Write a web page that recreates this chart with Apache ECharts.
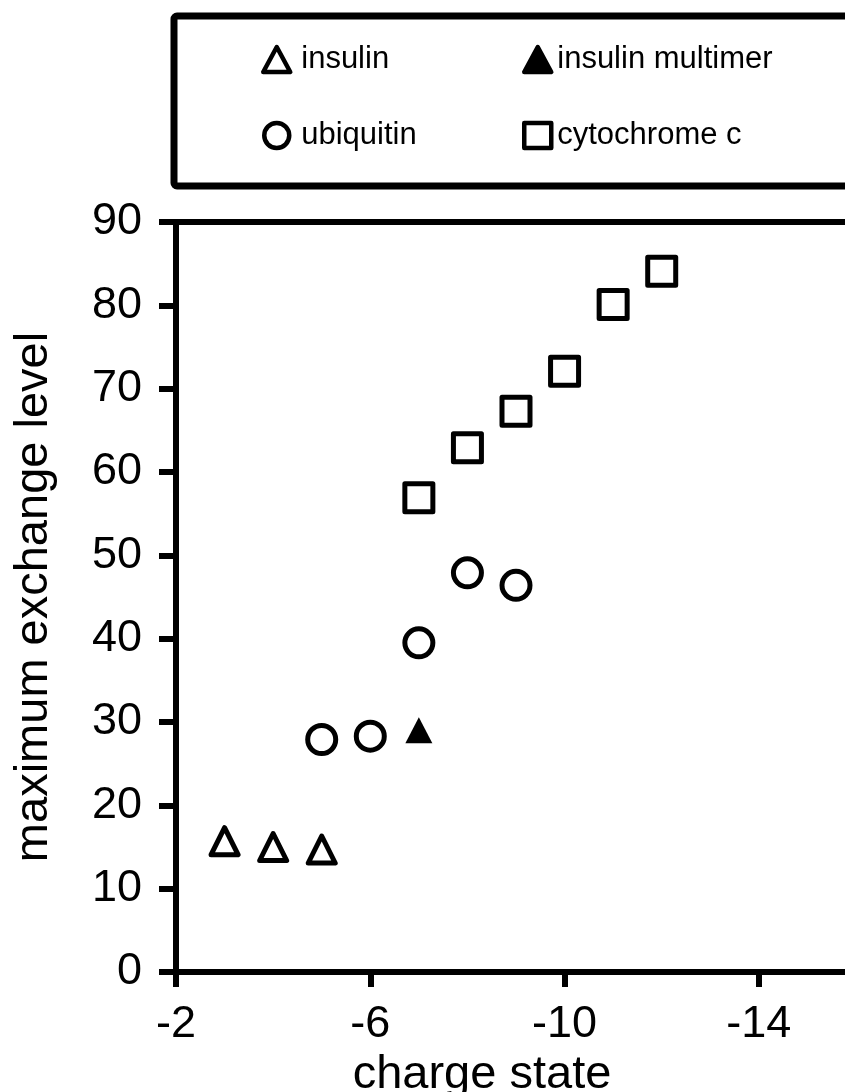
<!DOCTYPE html>
<html>
<head>
<meta charset="utf-8">
<title>maximum exchange level vs charge state</title>
<script src="https://cdn.jsdelivr.net/npm/echarts@6/dist/echarts.min.js"></script>
<style>
  html, body { margin: 0; padding: 0; background: #ffffff; }
  #chart { width: 845px; height: 1092px; }
</style>
</head>
<body>
<div id="chart"></div>
<script>
// Charge states (x) and maximum exchange levels (y) for each protein
const insulinCharge = [-3, -4, -5];
const insulinLevel = [15.7, 15.0, 14.7];

const multimerCharge = [-7];
const multimerLevel = [29.0];

const ubiquitinCharge = [-5, -6, -7, -8, -9];
const ubiquitinLevel = [27.9, 28.3, 39.5, 47.9, 46.4];

const cytochromeCharge = [-7, -8, -9, -10, -11, -12];
const cytochromeLevel = [56.9, 62.9, 67.3, 72.1, 80.1, 84.1];

const xTickValues = [-2, -6, -10, -14];
const seriesNames = ['insulin', 'insulin multimer', 'ubiquitin', 'cytochrome c'];

const FONT = '"Liberation Sans", Arial, sans-serif';

function pairs(xs, ys) {
  return xs.map((x, i) => [x, ys[i]]);
}

const hollow = {
  color: '#ffffff',
  borderColor: '#000000',
  borderWidth: 5,
  borderJoin: 'round',
  opacity: 1
};

const chart = echarts.init(document.getElementById('chart'), null, { renderer: 'canvas' });

const legendText = { fontFamily: FONT, fontSize: 31, color: '#000', lineHeight: 30 };
const legendIcon = { borderWidth: 4.5, borderColor: '#000', borderJoin: 'round', opacity: 1 };

chart.setOption({
  backgroundColor: '#ffffff',
  animation: false,
  graphic: [{
    type: 'rect',
    shape: { x: 174, y: 16, width: 720, height: 170, r: 3 },
    style: { fill: 'none', stroke: '#000', lineWidth: 7 },
    z: 0
  }],
  legend: [{
    orient: 'vertical',
    left: 256,
    top: 39,
    itemWidth: 27,
    itemHeight: 25,
    itemGap: 45,
    data: [seriesNames[0], seriesNames[2]],
    itemStyle: legendIcon,
    textStyle: Object.assign({ padding: [0, 0, 0, 6] }, legendText),
    selectedMode: false
  }, {
    orient: 'vertical',
    left: 517,
    top: 39,
    itemWidth: 27,
    itemHeight: 25,
    itemGap: 45,
    data: [seriesNames[1], seriesNames[3]],
    itemStyle: legendIcon,
    textStyle: Object.assign({ padding: [0, 0, 0, 1] }, legendText),
    selectedMode: false
  }],
  grid: { left: 176, top: 222, width: 680, bottom: 120, containLabel: false, outerBoundsMode: 'none' },
  xAxis: [{
    type: 'value',
    min: -16,
    max: -2,
    inverse: true,
    name: 'charge state',
    nameLocation: 'middle',
    nameGap: 76,
    nameTextStyle: { fontFamily: FONT, fontSize: 47, color: '#000', padding: [0, 68, 0, 0] },
    axisLine: { show: true, onZero: false, lineStyle: { color: '#000', width: 6 } },
    axisTick: { show: true, length: 15, lineStyle: { color: '#000', width: 6 }, customValues: xTickValues },
    axisLabel: { fontFamily: FONT, fontSize: 45, color: '#000', margin: 30, customValues: xTickValues },
    splitLine: { show: false }
  }, {
    type: 'value',
    position: 'top',
    min: -16,
    max: -2,
    inverse: true,
    axisLine: { show: true, onZero: false, lineStyle: { color: '#000', width: 6 } },
    axisTick: { show: false },
    axisLabel: { show: false },
    splitLine: { show: false }
  }],
  yAxis: {
    type: 'value',
    min: 0,
    max: 90,
    interval: 10,
    name: 'maximum exchange level',
    nameLocation: 'middle',
    nameGap: 118,
    nameRotate: 90,
    nameTextStyle: { fontFamily: FONT, fontSize: 47, color: '#000' },
    axisLine: { show: true, onZero: false, lineStyle: { color: '#000', width: 6 } },
    axisTick: { show: true, length: 17, lineStyle: { color: '#000', width: 6 } },
    axisLabel: { fontFamily: FONT, fontSize: 45, color: '#000', margin: 34, padding: [10, 0, 0, 0] },
    splitLine: { show: false }
  },
  series: [{
    name: seriesNames[0],
    type: 'scatter',
    symbol: 'triangle',
    symbolSize: [27, 27],
    itemStyle: hollow,
    data: pairs(insulinCharge, insulinLevel),
    z: 5
  }, {
    name: seriesNames[1],
    type: 'scatter',
    symbol: 'triangle',
    symbolSize: [27, 26],
    itemStyle: { color: '#000000', opacity: 1 },
    data: pairs(multimerCharge, multimerLevel),
    z: 5
  }, {
    name: seriesNames[2],
    type: 'scatter',
    symbol: 'circle',
    symbolSize: 28,
    itemStyle: hollow,
    data: pairs(ubiquitinCharge, ubiquitinLevel),
    z: 5
  }, {
    name: seriesNames[3],
    type: 'scatter',
    symbol: 'rect',
    symbolSize: 28,
    itemStyle: hollow,
    data: pairs(cytochromeCharge, cytochromeLevel),
    z: 5
  }]
});
</script>
</body>
</html>
